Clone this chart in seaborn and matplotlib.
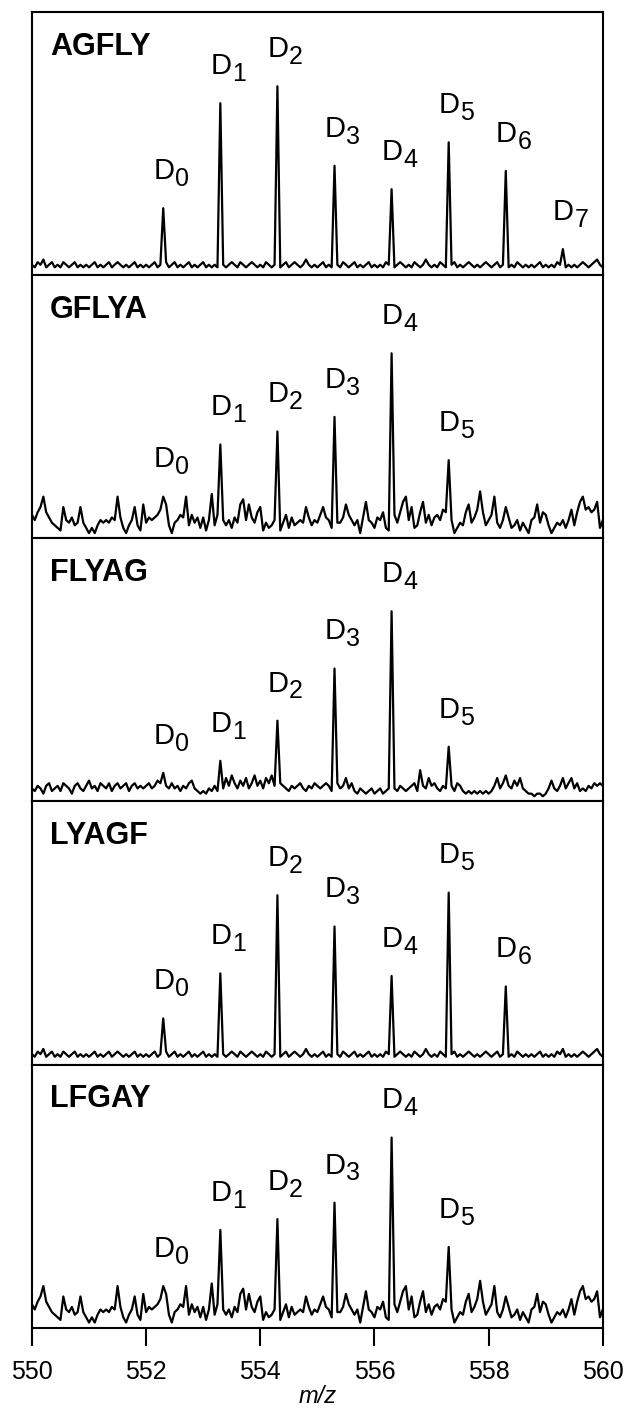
import matplotlib
matplotlib.use('Agg')
import matplotlib.pyplot as plt
import numpy as np
import pandas as pd
import seaborn as sns

# m/z sampling of the traces
mz_start = 550.0
mz_step = 0.05

sequences = ['AGFLY', 'GFLYA', 'FLYAG', 'LYAGF', 'LFGAY']
peak_mz = [552.3, 553.3, 554.3, 555.3, 556.3, 557.3, 558.3, 559.3]

# peak heights (% of panel height), D0, D1, ...
agfly_heights = [24.7, 65, 71.5, 41, 32, 50, 39, 9]
gflya_heights = [15, 35, 40, 45.6, 70, 29]
flyag_heights = [10, 14.6, 30, 50, 72, 20]
lyagf_heights = [16.7, 34, 64, 52, 33, 65, 29]
lfgay_heights = [15, 36.5, 40.7, 47, 72, 30]

# baseline noise, one value every 0.05 m/z from 550 to 560
noise_lo = [3, 2, 4, 3, 5, 2, 3, 4, 2, 3, 2, 4, 3, 2, 3, 4, 2, 3, 2, 3,
            2, 3, 4, 2, 3, 2, 3, 4, 2, 3, 4, 3, 2, 3, 2, 3, 4, 2, 3, 2,
            3, 2, 3, 4, 2, 3, 5, 4, 2, 3, 4, 2, 3, 2, 3, 4, 2, 3, 2, 3,
            4, 2, 3, 2, 3, 2, 5, 3, 2, 3, 4, 3, 2, 4, 3, 2, 3, 4, 3, 2,
            3, 2, 4, 3, 2, 3, 5, 2, 3, 4, 2, 3, 4, 3, 2, 3, 5, 3, 2, 3,
            2, 3, 4, 2, 3, 2, 5, 3, 2, 4, 3, 2, 3, 4, 2, 3, 2, 3, 4, 2,
            3, 2, 3, 2, 4, 3, 5, 2, 3, 4, 3, 2, 3, 2, 4, 3, 2, 3, 5, 3,
            2, 3, 2, 4, 3, 2, 5, 3, 4, 2, 3, 2, 3, 4, 3, 2, 3, 2, 3, 4,
            3, 2, 3, 4, 2, 3, 5, 2, 3, 2, 4, 3, 2, 3, 2, 3, 2, 3, 4, 2,
            3, 2, 3, 2, 4, 3, 5, 2, 3, 2, 3, 2, 3, 4, 3, 2, 3, 4, 5, 3, 2]

noise_hi = [8, 6, 9, 11, 15, 9, 7, 5, 4, 3, 2, 11, 6, 5, 7, 4, 5, 11, 5, 3,
            1, 3, 1, 4, 6, 5, 6, 5, 7, 6, 15, 7, 3, 1, 4, 6, 11, 4, 2, 12,
            5, 7, 6, 7, 8, 10, 14, 12, 4, 1, 5, 6, 8, 7, 15, 4, 8, 5, 7, 3,
            7, 2, 6, 16, 4, 8, 5, 6, 4, 6, 3, 7, 5, 12, 14, 6, 12, 7, 5, 9,
            11, 2, 5, 3, 4, 6, 5, 2, 5, 8, 3, 7, 4, 5, 6, 5, 11, 7, 4, 6,
            5, 8, 11, 7, 6, 3, 5, 5, 5, 7, 12, 8, 6, 4, 6, 1, 7, 13, 6, 5,
            3, 7, 6, 9, 3, 2, 5, 8, 5, 9, 13, 15, 6, 11, 3, 4, 9, 13, 5, 8,
            4, 7, 8, 6, 10, 9, 5, 6, 1, 3, 5, 4, 9, 12, 5, 7, 10, 17, 9, 4,
            6, 8, 15, 5, 3, 6, 11, 7, 3, 4, 6, 2, 5, 3, 1, 6, 7, 12, 5, 9,
            8, 4, 1, 3, 5, 4, 6, 3, 6, 10, 4, 9, 13, 15, 10, 11, 9, 10, 13, 3, 6]

noise_mid = [4, 3, 5, 4, 2, 5, 6, 3, 4, 5, 3, 6, 5, 4, 2, 5, 6, 4, 3, 5,
             7, 4, 5, 3, 6, 5, 4, 6, 3, 5, 6, 4, 5, 6, 3, 5, 6, 4, 5, 4,
             5, 6, 4, 5, 7, 6, 5, 5, 4, 6, 4, 5, 3, 5, 4, 6, 7, 4, 3, 2,
             3, 2, 4, 3, 5, 3, 5, 4, 8, 5, 9, 6, 4, 7, 5, 8, 4, 6, 9, 5,
             7, 4, 8, 6, 9, 5, 5, 6, 5, 4, 3, 5, 4, 5, 6, 4, 3, 5, 4, 6,
             5, 4, 5, 6, 5, 3, 5, 6, 4, 5, 8, 4, 6, 3, 2, 4, 3, 2, 3, 4,
             2, 3, 4, 2, 3, 4, 5, 4, 3, 5, 4, 3, 4, 5, 6, 3, 11, 5, 4, 8,
             5, 6, 4, 3, 5, 4, 5, 5, 3, 6, 5, 3, 2, 3, 2, 3, 2, 3, 2, 3,
             2, 3, 5, 8, 4, 6, 9, 5, 4, 7, 5, 8, 4, 3, 2, 2, 1, 2, 2, 1,
             2, 4, 7, 4, 3, 5, 8, 4, 6, 8, 4, 6, 3, 4, 3, 5, 4, 6, 5, 6, 5]

panel_heights = [agfly_heights, gflya_heights, flyag_heights, lyagf_heights, lfgay_heights]
panel_noise = [noise_lo, noise_hi, noise_mid, noise_lo, noise_hi]
x_ticks = [550, 552, 554, 556, 558, 560]


def build_trace(noise, heights):
    mz = np.round(mz_start + mz_step * np.arange(len(noise)), 2)
    intensity = np.array(noise, dtype=float)
    for k, h in enumerate(heights):
        idx = int(round((peak_mz[k] - mz_start) / mz_step))
        intensity[idx] = h
    return pd.DataFrame({'m/z': mz, 'Intensity': intensity})


def main() -> None:
    sns.set_theme(style='white')
    plt.rcParams['font.family'] = ['Liberation Sans', 'DejaVu Sans']
    plt.rcParams['text.color'] = 'black'
    plt.rcParams['axes.labelcolor'] = 'black'
    plt.rcParams['xtick.color'] = 'black'

    fig, axes = plt.subplots(5, 1, figsize=(6.26, 14.14), dpi=100, sharex=True)
    fig.subplots_adjust(left=0.051, right=0.963, bottom=0.061, top=0.9915, hspace=0)

    for ax, name, heights, noise in zip(axes, sequences, panel_heights, panel_noise):
        df = build_trace(noise, heights)
        sns.lineplot(data=df, x='m/z', y='Intensity', ax=ax, color='black',
                     linewidth=1.6, estimator=None, sort=False)
        ax.set_xlim(550, 560)
        ax.set_ylim(-1, 100)
        ax.set_yticks([])
        ax.set_ylabel('')
        ax.set_xlabel('')
        for spine in ax.spines.values():
            spine.set_color('black')
            spine.set_linewidth(1.5)
        ax.text(0.032, 0.925, name, transform=ax.transAxes, fontsize=22,
                fontweight='bold', va='top', ha='left')
        for k, h in enumerate(heights):
            ax.annotate('D', xy=(peak_mz[k], h), xytext=(8, 21), textcoords='offset points',
                        ha='right', va='baseline', fontsize=21)
            ax.annotate(str(k), xy=(peak_mz[k], h), xytext=(8.5, 16), textcoords='offset points',
                        ha='left', va='baseline', fontsize=18)
        ax.tick_params(axis='x', which='both', bottom=False, labelbottom=False)

    bottom = axes[-1]
    bottom.set_xticks(x_ticks)
    bottom.tick_params(axis='x', bottom=True, labelbottom=True, direction='out',
                       length=13, width=1.5, color='black', pad=10, labelsize=18)
    bottom.set_xlabel('m/z', fontsize=17, fontstyle='italic', labelpad=1)

    fig.savefig('out.png', dpi=100)


if __name__ == '__main__':
    main()
